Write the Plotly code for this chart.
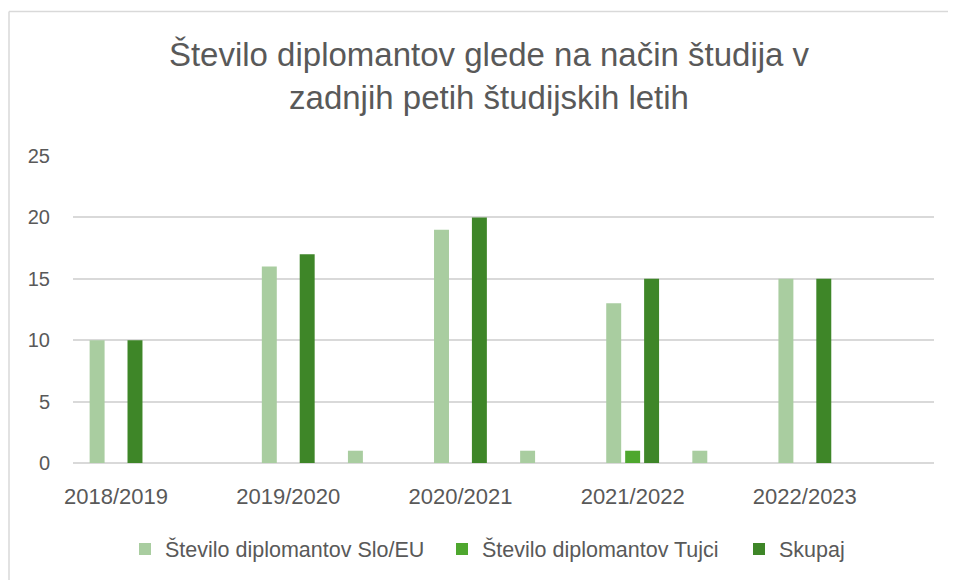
import plotly.graph_objects as go

# Category slots: each school year is followed by an unlabeled slot (as in the source chart)
slot_labels = ["2018/2019", "", "2019/2020", "", "2020/2021", "", "2021/2022", "", "2022/2023", ""]
slo_eu = [10, 0, 16, 1, 19, 1, 13, 1, 15, 0]
tujci = [0, 0, 0, 0, 0, 0, 1, 0, 0, 0]
skupaj = [10, 0, 17, 0, 20, 0, 15, 0, 15, 0]
y_ticks = [0, 5, 10, 15, 20, 25]

series_names = ["Število diplomantov Slo/EU", "Število diplomantov Tujci", "Skupaj"]
series_colors = ["#A9CDA0", "#4EA72E", "#3E8628"]

title_text = "Število diplomantov glede na način študija v<br>zadnjih petih študijskih letih"

x_pos = list(range(len(slot_labels)))
tick_vals = [x for x, lab in zip(x_pos, slot_labels) if lab]
tick_text = [lab for lab in slot_labels if lab]

OFF = 8  # page body margin
W, H = 956 - OFF, 580 - OFF
# plot area in page pixels, converted to figure pixels
L, R, T, B = 73 - OFF, 934 - OFF, 156 - OFF, 464 - OFF

def px_x(p):  # page px -> paper x
    return (p - OFF - L) / (R - L)

def px_y(p):  # page px -> paper y
    return (B - (p - OFF)) / (B - T)

legend_ids = ["legend", "legend2", "legend3"]
legend_text_start = [165, 482, 779]  # page px where each legend label begins

fig = go.Figure()
for name, vals, col, lg in zip(series_names, [slo_eu, tujci, skupaj], series_colors, legend_ids):
    fig.add_trace(go.Bar(x=x_pos, y=vals, name=name, legend=lg,
                         marker=dict(color=col, line=dict(width=0))))

txt = "#595959"
legend_common = dict(orientation="h", xanchor="left", y=px_y(549), yanchor="middle",
                     font=dict(size=21.5, color=txt), bgcolor="rgba(0,0,0,0)",
                     itemclick=False, itemdoubleclick=False)

fig.update_layout(
    width=W, height=H,
    margin=dict(l=L, r=W - R, t=T, b=H - B, pad=0),
    paper_bgcolor="white", plot_bgcolor="white",
    barmode="group", bargap=0.34, bargroupgap=0.21,
    font=dict(family="Liberation Sans, Arial", color=txt),
    title=dict(
        text=title_text,
        x=px_x(489), xref="paper", xanchor="center",
        y=1 - (66 - OFF) / H, yref="container", yanchor="middle",
        font=dict(size=33, color=txt, family="Liberation Sans, Arial"),
    ),
    xaxis=dict(
        range=[-0.5, len(slot_labels) - 0.5],
        tickvals=tick_vals, ticktext=tick_text,
        showgrid=False, zeroline=False, showline=False,
        ticks="", ticklabelstandoff=18,
        tickfont=dict(size=22, color=txt),
    ),
    yaxis=dict(
        range=[0, 25], tickvals=y_ticks,
        showgrid=True, gridcolor="#D9D9D9", gridwidth=1.5,
        zeroline=True, zerolinecolor="#D9D9D9", zerolinewidth=1.5,
        showline=False, ticks="", ticklabelstandoff=22,
        tickfont=dict(size=20, color=txt),
    ),
    legend=dict(x=px_x(legend_text_start[0] - 40), **legend_common),
    legend2=dict(x=px_x(legend_text_start[1] - 40), **legend_common),
    legend3=dict(x=px_x(legend_text_start[2] - 40), **legend_common),
    showlegend=True,
)

# chart-area border: top and left edges are visible in the frame
border = dict(color="#D9D9D9", width=1.5)
fig.add_shape(type="line", xref="paper", yref="paper",
              x0=px_x(9), x1=px_x(1000), y0=px_y(11), y1=px_y(11), line=border, layer="below")
fig.add_shape(type="line", xref="paper", yref="paper",
              x0=px_x(9), x1=px_x(9), y0=px_y(11), y1=px_y(640), line=border, layer="below")

fig.write_html("out.html")
